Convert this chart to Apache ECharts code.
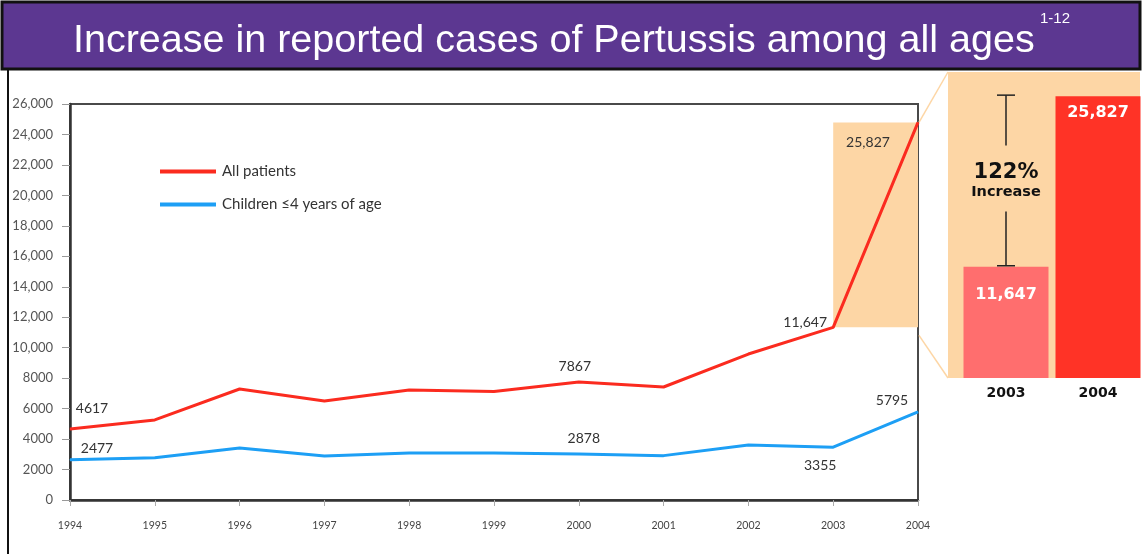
<!DOCTYPE html>
<html><head><meta charset="utf-8">
<script src="https://cdn.jsdelivr.net/npm/echarts@6/dist/echarts.min.js"></script>
<style>html,body{margin:0;padding:0;background:#fff}#c{width:1146px;height:554px}</style>
</head><body><div id="c"></div>
<script>
// ---- data ----
const years = ['1994','1995','1996','1997','1998','1999','2000','2001','2002','2003','2004'];
const allPatients = [4617, 5240, 7380, 6550, 7310, 7200, 7867, 7520, 9800, 11647, 25827];
const children = [2477, 2630, 3300, 2750, 2950, 2950, 2878, 2770, 3500, 3355, 5795];
const seriesNames = ['All patients', 'Children \u22644 years of age'];
const yTickMin = 0, yTickMax = 26000, yTickStep = 2000;
const barYears = ['2003', '2004'];
const barValues = [11647, 25827];
const titleText = 'Increase in reported cases of Pertussis among all ages';
const titleRef = '1-12';

// ---- presentation ----
const RED = '#fb2b1f', BLUE = '#1d9ff5', PEACH = '#fdd6a5';
const redLabelOffsets = {0: [22, -20], 6: [-4, -15], 9: [-28, -5], 10: [-50, 20]};
const blueLabelOffsets = {0: [27, -11], 6: [5, -16], 9: [-13, 18], 10: [-26, -11]};
const fmt = v => v >= 10000 ? v.toLocaleString('en-US') : String(v);
const labelFont = {fontFamily: 'Lato', fontSize: 14, color: '#333'};

function lineData(values, offsets) {
  return values.map((v, i) => offsets[i] ? {
    value: v,
    label: Object.assign({show: true, position: 'inside', offset: offsets[i], formatter: p => fmt(p.value)}, labelFont)
  } : v);
}
const barColors = ['#ff6e6e', '#ff3326'];
const barLabelDist = [20, 9];

const chart = echarts.init(document.getElementById('c'), null, {renderer: 'canvas'});
const option = {
  animation: false,
  backgroundColor: '#fff',
  title: {
    text: titleText, left: 68, top: 16, z: 10,
    textStyle: {color: '#fff', fontFamily: 'Liberation Sans', fontSize: 39.5, fontWeight: 'normal'}
  },
  legend: {
    data: seriesNames, orient: 'vertical', left: 155, top: 159, itemGap: 18,
    icon: 'rect', itemWidth: 56, itemHeight: 4,
    textStyle: {fontFamily: 'Lato', fontSize: 15, color: '#333', padding: [0, 0, 0, 1]}
  },
  grid: [
    {left: 70, right: 228, top: 104, bottom: 54, show: true, borderColor: '#4a4a4a', borderWidth: 2, backgroundColor: 'transparent', outerBoundsMode: 'none'},
    {left: 960, width: 184, top: 70, bottom: 176, outerBoundsMode: 'none'}
  ],
  xAxis: [
    {type: 'category', gridIndex: 0, data: years, boundaryGap: false,
     axisLine: {show: true, lineStyle: {color: '#333', width: 2.5}},
     axisTick: {show: true, length: 6, lineStyle: {color: '#aaa'}},
     axisLabel: {margin: 20, fontFamily: 'Lato', fontSize: 10.5, color: '#444'},
     splitLine: {show: false}},
    {type: 'category', gridIndex: 1, data: barYears,
     axisLine: {show: false}, axisTick: {show: false},
     axisLabel: {margin: 8, fontFamily: 'DejaVu Sans', fontWeight: 'bold', fontSize: 14, color: '#111'},
     splitLine: {show: false}}
  ],
  yAxis: [
    {type: 'value', gridIndex: 0, min: yTickMin, max: yTickMax, interval: yTickStep,
     axisLine: {show: true, lineStyle: {color: '#333', width: 2.5}},
     axisTick: {show: true, length: 8, lineStyle: {color: '#999'}},
     axisLabel: {margin: 17, fontFamily: 'Lato', fontSize: 13, color: '#555', formatter: fmt},
     splitLine: {show: false}},
    {type: 'value', gridIndex: 0, min: -300, max: 27100, show: false, splitLine: {show: false}},
    {type: 'value', gridIndex: 1, min: 2400, max: 28000, show: false, splitLine: {show: false}}
  ],
  series: [
    {name: seriesNames[0], type: 'line', xAxisIndex: 0, yAxisIndex: 1,
     data: lineData(allPatients, redLabelOffsets),
     symbol: 'circle', symbolSize: 1, showSymbol: true, color: RED,
     lineStyle: {color: RED, width: 3}, z: 4,
     markArea: {silent: true, itemStyle: {color: PEACH},
       data: [[{coord: [years[years.length - 2], allPatients[allPatients.length - 2]]},
               {coord: [years[years.length - 1], allPatients[allPatients.length - 1]]}]]}},
    {name: seriesNames[1], type: 'line', xAxisIndex: 0, yAxisIndex: 1,
     data: lineData(children, blueLabelOffsets),
     symbol: 'circle', symbolSize: 1, showSymbol: true, color: BLUE,
     lineStyle: {color: BLUE, width: 3}, z: 4},
    {type: 'bar', xAxisIndex: 1, yAxisIndex: 2, barWidth: 85, z: 3,
     data: barValues.map((v, i) => ({value: v, itemStyle: {color: barColors[i]},
       label: {show: true, position: 'insideTop', distance: barLabelDist[i], formatter: p => fmt(p.value),
               color: '#fff', fontFamily: 'DejaVu Sans', fontWeight: 'bold', fontSize: 16}}))},
    {type: 'custom', xAxisIndex: 1, yAxisIndex: 2, z: 5,
     data: [[barYears[0], barValues[0], barValues[1]]],
     renderItem: function (params, api) {
       const lo = api.coord([api.value(0), api.value(1)]);
       const hi = api.coord([api.value(0), api.value(2)]);
       const x = lo[0], yTop = hi[1] - 1, yBot = lo[1] - 1;
       const mid = (yTop + yBot) / 2;
       const pct = Math.round((api.value(2) - api.value(1)) / api.value(1) * 100) + '%';
       const st = {stroke: '#222', lineWidth: 1.5};
       return {type: 'group', children: [
         {type: 'line', shape: {x1: x, y1: yTop, x2: x, y2: mid - 35}, style: st},
         {type: 'line', shape: {x1: x - 9, y1: yTop, x2: x + 9, y2: yTop}, style: st},
         {type: 'line', shape: {x1: x, y1: mid + 31, x2: x, y2: yBot}, style: st},
         {type: 'line', shape: {x1: x - 9, y1: yBot, x2: x + 9, y2: yBot}, style: st},
         {type: 'text', x: x, y: mid - 8, style: {text: pct, fill: '#111', font: 'bold 21px "DejaVu Sans"', textAlign: 'center', textVerticalAlign: 'middle'}},
         {type: 'text', x: x, y: mid + 12, style: {text: 'Increase', fill: '#111', font: 'bold 14.5px "DejaVu Sans"', textAlign: 'center', textVerticalAlign: 'middle'}}
       ]};
     }}
  ],
  graphic: [
    {id: 'titlebar', type: 'rect', z: 1, shape: {x: 2, y: 2, width: 1138, height: 67}, style: {fill: '#5c3791', stroke: '#111', lineWidth: 3}},
    {id: 'titleref', type: 'text', z: 11, x: 1040, y: 11, style: {text: titleRef, fill: '#fff', font: '15px "Liberation Sans"'}},
    {id: 'frame', type: 'line', z: 1, shape: {x1: 8, y1: 70, x2: 8, y2: 554}, style: {stroke: '#111', lineWidth: 2}},
    {id: 'panel', type: 'rect', z: 0, shape: {x: 948, y: 72, width: 192, height: 306}, style: {fill: PEACH}}
  ]
};
chart.setOption(option);

// connector lines from the highlighted area to the zoom panel
const n = years.length;
const pTop = chart.convertToPixel({seriesIndex: 0}, [years[n - 1], allPatients[n - 1]]);
const pBot = chart.convertToPixel({seriesIndex: 0}, [years[n - 1], allPatients[n - 2]]);
chart.setOption({graphic: [
  {id: 'c1', type: 'line', z: 0, shape: {x1: pTop[0] + 1, y1: pTop[1], x2: 948, y2: 72}, style: {stroke: PEACH, lineWidth: 1.5}},
  {id: 'c2', type: 'line', z: 0, shape: {x1: pBot[0] + 1, y1: pBot[1] + 8, x2: 948, y2: 378}, style: {stroke: PEACH, lineWidth: 1.5}}
]});
</script>
</body></html>
